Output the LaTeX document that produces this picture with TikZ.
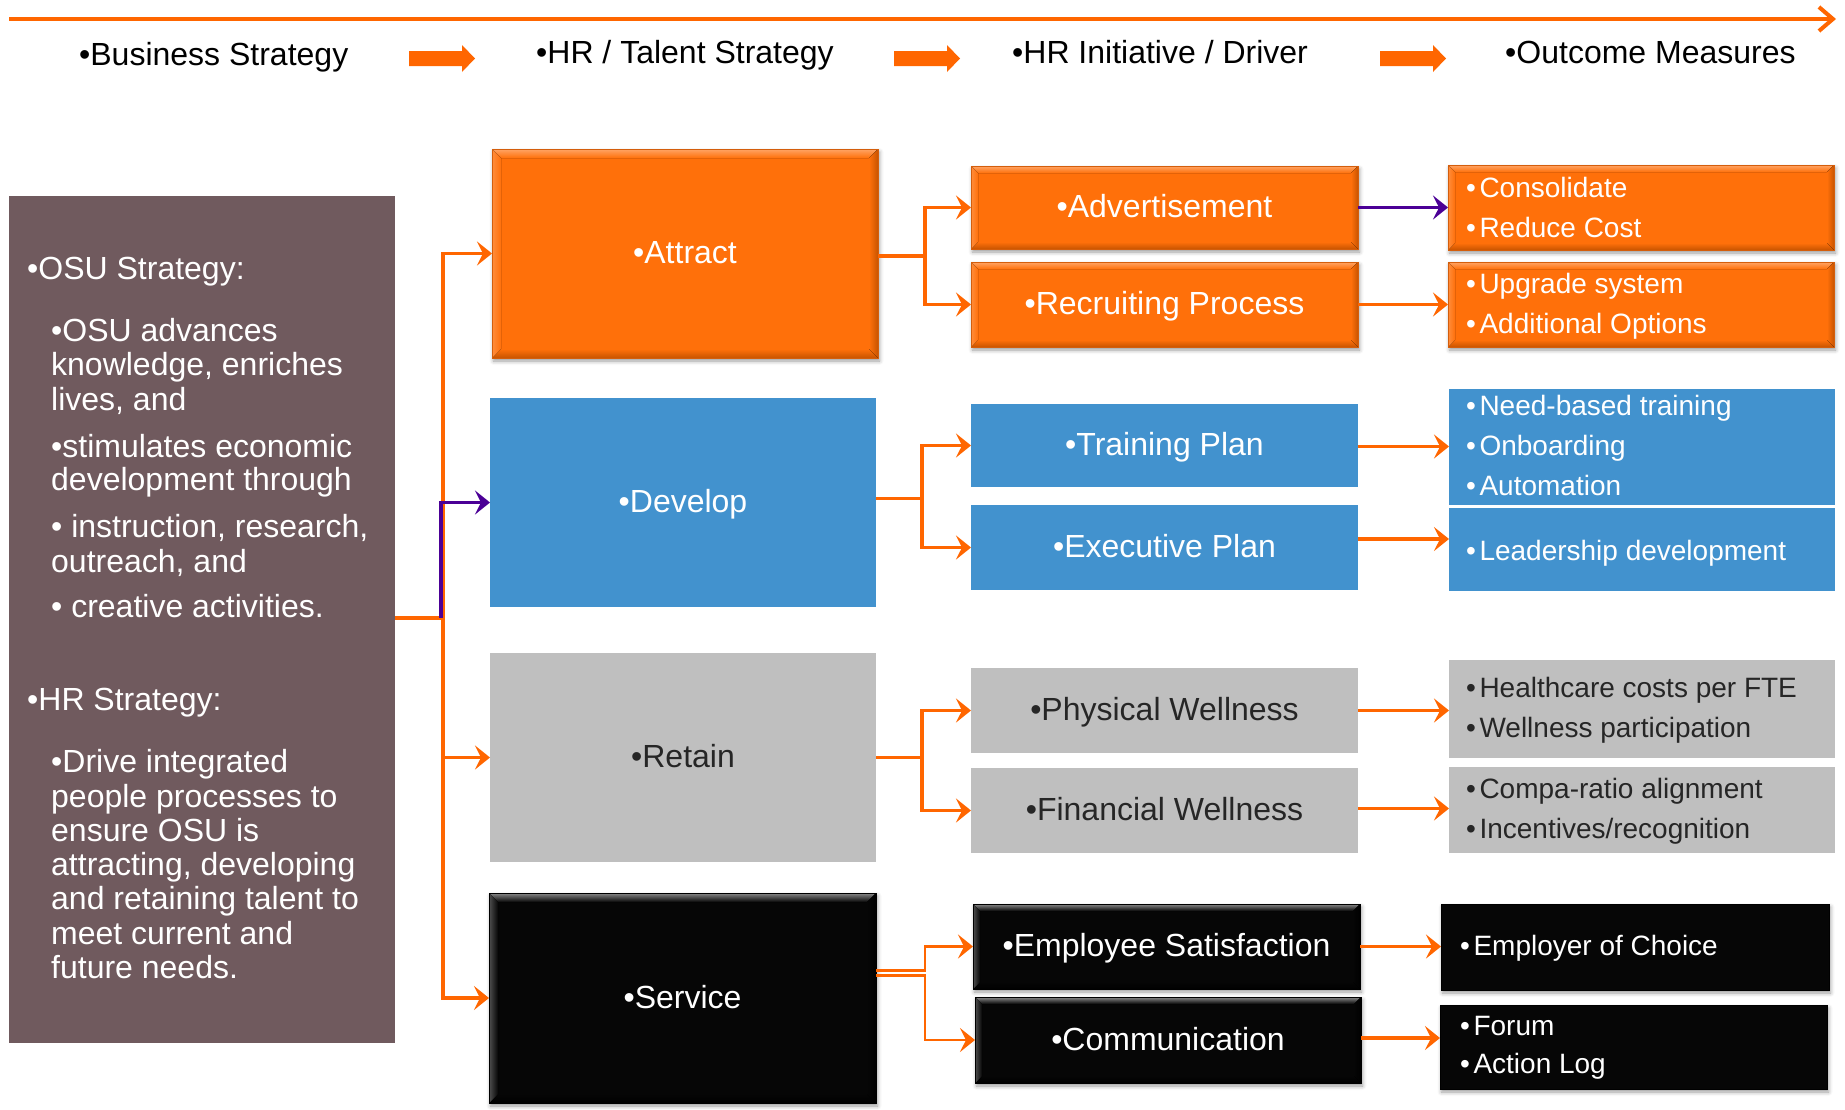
\documentclass[tikz,border=0pt]{standalone}
\usepackage{fontspec}
\setmainfont{Liberation Sans}
\usetikzlibrary{arrows.meta,shadows.blur}

\definecolor{lineorange}{HTML}{FF6600}
\definecolor{linkpurple}{HTML}{4B0096}
\definecolor{boxorange}{HTML}{FF700A}
\definecolor{orangelight}{HTML}{FFA566}
\definecolor{orangedark}{HTML}{C85400}
\definecolor{orangeedge}{HTML}{D45E0C}
\definecolor{boxblue}{HTML}{4292CE}
\definecolor{boxgrey}{HTML}{BFBFBF}
\definecolor{boxblack}{HTML}{060606}
\definecolor{blacklight}{HTML}{8A8A8A}
\definecolor{mauve}{HTML}{705A5E}
\definecolor{darktext}{HTML}{262626}

% rectangle node given by its corners: style, name, x1, y1, x2, y2, text
\newcommand\rectnode[7]{%
  \node[#1, minimum width={#5-#3}, minimum height={#6-#4}] (#2)
    at ({(#3+#5)/2},{(#4+#6)/2}) {#7};}

% bevelled rim inside a node: node, rim width, base, light, dark, edge colour
\newcommand\bevel[6]{%
  \fill[top color=#4, bottom color=#3] (#1.north west) -- (#1.north east)
    -- ([xshift=-#2,yshift=-#2]#1.north east) -- ([xshift=#2,yshift=-#2]#1.north west) -- cycle;
  \fill[top color=#3, bottom color=#5] ([xshift=#2,yshift=#2]#1.south west)
    -- ([xshift=-#2,yshift=#2]#1.south east) -- (#1.south east) -- (#1.south west) -- cycle;
  \fill[left color=#4!55!#3, right color=#3] (#1.north west) -- ([xshift=#2,yshift=-#2]#1.north west)
    -- ([xshift=#2,yshift=#2]#1.south west) -- (#1.south west) -- cycle;
  \fill[left color=#3, right color=#5] ([xshift=-#2,yshift=-#2]#1.north east) -- (#1.north east)
    -- (#1.south east) -- ([xshift=-#2,yshift=#2]#1.south east) -- cycle;
  \draw[#6, line width=0.8pt] (#1.north west) rectangle (#1.south east);}

\newcommand\bgap{\hspace{3.5pt}}

\begin{document}
\begin{tikzpicture}[x=1pt, y=-1pt,
  box/.style={inner sep=0pt, outer sep=0pt},
  shade/.style={blur shadow={shadow xshift=1.5pt, shadow yshift=-3pt,
      shadow blur radius=4pt, shadow opacity=40}},
  orangebox/.style={box, shade, fill=boxorange, draw=orangeedge, line width=0.8pt},
  bluebox/.style={box, fill=boxblue},
  greybox/.style={box, fill=boxgrey},
  blackbox/.style={box, shade, fill=boxblack, draw=black, line width=0.8pt},
  mauvebox/.style={box, fill=mauve},
  head/.style={inner sep=0pt, anchor=base west, font=\fontsize{32}{38}\selectfont},
  ltext/.style={inner sep=0pt, anchor=base west, text=white, font=\fontsize{32}{34.5}\selectfont},
  ctext/.style={font=\fontsize{32}{38}\selectfont, text height=22pt, text depth=2pt},
  otext/.style={inner sep=0pt, anchor=base west, font=\fontsize{28}{40}\selectfont},
  conn/.style={draw=lineorange, line width=3.2pt,
      -{Stealth[length=15pt, width=24pt, inset=6pt]}},
  thinconn/.style={conn, line width=2.2pt},
  purpconn/.style={conn, draw=linkpurple},
]
\useasboundingbox (0,0) rectangle (1845,1109);

% ---------- timeline and column headings ----------
\coordinate (tlstart) at (9,19);
\coordinate (tlend) at (1836,19);
\draw[lineorange, line width=4pt, -{Straight Barb[length=14pt, width=24pt]}] (tlstart) -- (tlend);

\node[head] (hbiz) at (79,65) {•Business Strategy};
\node[head] (htal) at (536,63) {•HR / Talent Strategy};
\node[head] (hini) at (1012,63) {•HR Initiative / Driver};
\node[head] (hout) at (1505,63) {•Outcome Measures};

\foreach \dx in {0,485,971}
  \fill[lineorange, shift={(\dx,0)}] (409,51) -- (462,51) -- (462,45) -- (475,58.5)
    -- (462,72) -- (462,66) -- (409,66) -- cycle;

% ---------- strategy panel ----------
\rectnode{mauvebox}{osu}{9}{196}{395}{1043}{}
\foreach \px/\py/\tx [count=\i] in {
  27/279/{•OSU Strategy:},
  51/341/{•OSU advances},
  51/375/{knowledge, enriches},
  51/410/{lives, and},
  51/457/{•stimulates economic},
  51/490/{development through},
  51/537/{• instruction, research,},
  51/572/{outreach, and},
  51/617/{• creative activities.},
  27/710/{•HR Strategy:},
  51/772/{•Drive integrated},
  51/807/{people processes to},
  51/841/{ensure OSU is},
  51/875/{attracting, developing},
  51/909/{and retaining talent to},
  51/944/{meet current and},
  51/978/{future needs.}}
  \node[ltext] (osu\i) at (\px,\py) {\tx};

% ---------- talent strategy column ----------
\rectnode{orangebox, ctext, text=white}{attract}{492}{149}{878}{358}{•Attract}
\rectnode{bluebox, ctext, text=white}{develop}{490}{398}{876}{607}{•Develop}
\rectnode{greybox, ctext, text=darktext}{retain}{490}{653}{876}{862}{•Retain}
\rectnode{blackbox, ctext, text=white}{service}{489}{893}{876}{1103}{•Service}

% ---------- initiative column ----------
\rectnode{orangebox, ctext, text=white}{advert}{971}{166}{1358}{249}{•Advertisement}
\rectnode{orangebox, ctext, text=white}{recruit}{971}{262}{1358}{347}{•Recruiting Process}
\rectnode{bluebox, ctext, text=white}{training}{971}{404}{1358}{487}{•Training Plan}
\rectnode{bluebox, ctext, text=white}{exec}{971}{505}{1358}{590}{•Executive Plan}
\rectnode{greybox, ctext, text=darktext}{physical}{971}{668}{1358}{753}{•Physical Wellness}
\rectnode{greybox, ctext, text=darktext}{financial}{971}{768}{1358}{853}{•Financial Wellness}
\rectnode{blackbox, ctext, text=white}{empsat}{973}{904}{1360}{989}{•Employee Satisfaction}
\rectnode{blackbox, ctext, text=white}{comm}{975}{997}{1361}{1083}{•Communication}

% ---------- outcome column ----------
\rectnode{orangebox}{consol}{1448}{165}{1834}{250}{}
\rectnode{orangebox}{upgrade}{1448}{262}{1834}{347}{}
\rectnode{bluebox}{needs}{1449}{389}{1835}{505}{}
\rectnode{bluebox}{leader}{1449}{508}{1835}{591}{}
\rectnode{greybox}{health}{1449}{660}{1835}{758}{}
\rectnode{greybox}{compa}{1449}{767}{1835}{853}{}
\rectnode{blackbox}{employer}{1441}{904}{1829}{990}{}
\rectnode{blackbox}{forum}{1440}{1005}{1827}{1089}{}

% bevelled rims
\bevel{attract}{9pt}{boxorange}{orangelight}{orangedark}{orangeedge}
\foreach \n in {advert,recruit,consol,upgrade}
  {\bevel{\n}{7pt}{boxorange}{orangelight}{orangedark}{orangeedge}}
\bevel{service}{9pt}{boxblack}{blacklight}{black}{black}
\foreach \n in {empsat,comm}
  {\bevel{\n}{7pt}{boxblack}{blacklight}{black}{black}}

% outcome texts
\node[otext, text=white] (consol1) at (1466,197) {•\bgap Consolidate};
\node[otext, text=white] (consol2) at (1466,237) {•\bgap Reduce Cost};
\node[otext, text=white] (upgrade1) at (1466,293) {•\bgap Upgrade system};
\node[otext, text=white] (upgrade2) at (1466,333) {•\bgap Additional Options};
\node[otext, text=white] (needs1) at (1466,415) {•\bgap Need-based training};
\node[otext, text=white] (needs2) at (1466,455) {•\bgap Onboarding};
\node[otext, text=white] (needs3) at (1466,495) {•\bgap Automation};
\node[otext, text=white] (leader1) at (1466,560) {•\bgap Leadership development};
\node[otext, text=darktext] (health1) at (1466,697) {•\bgap Healthcare costs per FTE};
\node[otext, text=darktext] (health2) at (1466,737) {•\bgap Wellness participation};
\node[otext, text=darktext] (compa1) at (1466,798) {•\bgap Compa-ratio alignment};
\node[otext, text=darktext] (compa2) at (1466,838) {•\bgap Incentives/recognition};
\node[otext, text=white] (employer1) at (1460,955) {•\bgap Employer of Choice};
\node[otext, text=white] (forum1) at (1460,1035) {•\bgap Forum};
\node[otext, text=white] (forum2) at (1460,1073) {•\bgap Action Log};

% ---------- connectors: strategy panel to talent strategies ----------
\coordinate (hub) at (443,618);
\coordinate (hubp) at (441,618);
\draw[conn] (osu.east |- hub) -- (hub) |- (attract.west);
\draw[conn] (hub) |- (retain.west);
\draw[conn] (hub) |- (service.west);
\draw[purpconn] (hubp) |- (develop.west);

% ---------- connectors: talent strategies to initiatives ----------
\draw[conn] ([yshift=-2.5pt]attract.east) -- ++(47,0) |- (advert.west);
\draw[conn] ([yshift=-2.5pt]attract.east) -- ++(47,0) |- (recruit.west);
\draw[conn] ([yshift=4pt]develop.east) -- ++(46,0) |- (training.west);
\draw[conn] ([yshift=4pt]develop.east) -- ++(46,0) |- (exec.west);
\draw[conn] (retain.east) -- ++(46,0) |- (physical.west);
\draw[conn] (retain.east) -- ++(46,0) |- (financial.west);
\draw[thinconn] ([yshift=27.5pt]service.east) -- ++(49,0) |- (empsat.west);
\draw[thinconn] ([yshift=22.5pt]service.east) -- ++(49,0) |- (comm.west);

% ---------- connectors: initiatives to outcomes ----------
\draw[purpconn] (advert.east) -- (advert.east -| consol.west);
\draw[conn] (recruit.east) -- (recruit.east -| upgrade.west);
\draw[conn] ([yshift=-1pt]training.east) -- ([yshift=-1pt]training.east -| needs.west);
\draw[conn] ([yshift=8.5pt]exec.east) -- ([yshift=8.5pt]exec.east -| leader.west);
\draw[conn] (physical.east) -- (physical.east -| health.west);
\draw[conn] ([yshift=2pt]financial.east) -- ([yshift=2pt]financial.east -| compa.west);
\draw[conn] (empsat.east) -- (empsat.east -| employer.west);
\draw[conn] ([yshift=2pt]comm.east) -- ([yshift=2pt]comm.east -| forum.west);
\end{tikzpicture}
\end{document}
